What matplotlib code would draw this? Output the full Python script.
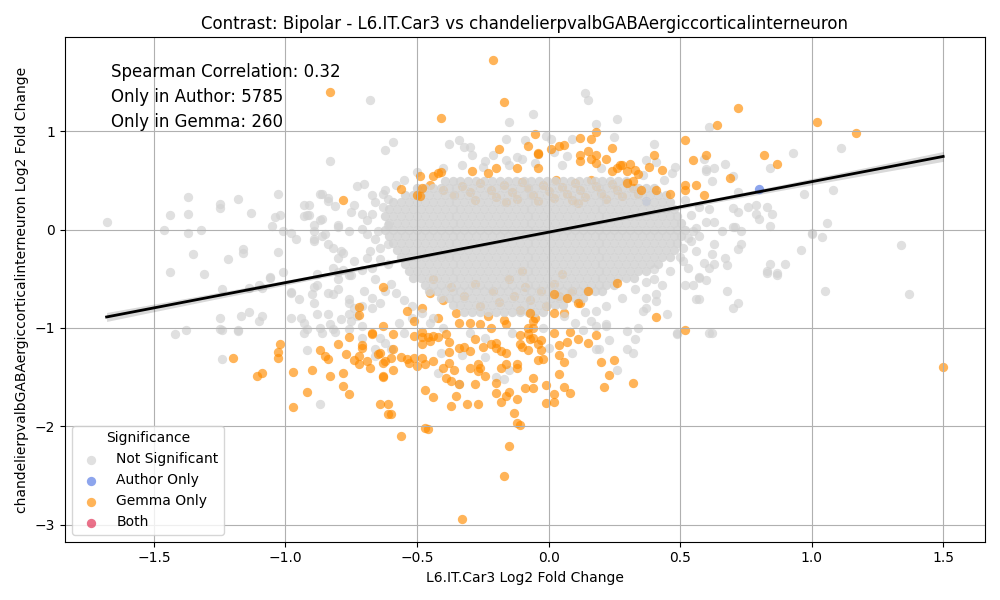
import numpy as np
import matplotlib.pyplot as plt

# labels
title = "Contrast: Bipolar - L6.IT.Car3 vs chandelierpvalbGABAergiccorticalinterneuron"
x_label = "L6.IT.Car3 Log2 Fold Change"
y_label = "chandelierpvalbGABAergiccorticalinterneuron Log2 Fold Change"
stats_lines = ["Spearman Correlation: 0.32", "Only in Author: 5785", "Only in Gemma: 260"]
categories = ["Not Significant", "Author Only", "Gemma Only", "Both"]
cat_colors = {"Not Significant": "lightgray", "Author Only": "royalblue",
              "Gemma Only": "darkorange", "Both": "crimson"}

# regression fit
fit_slope = 0.513
fit_intercept = -0.027

# not significant genes, scattered ones
gray_pts = [
    (-0.68, 1.32), (-0.83, 0.70), (-0.62, 0.81), (-1.68, 0.08), (-1.37, 0.33), (-1.44, 0.15), (-1.37, 0.16),
    (-1.46, -0.01), (-1.37, -0.04), (-1.32, 0.00), (-1.25, 0.26), (-1.25, 0.22), (-1.18, 0.31), (-1.13, 0.17),
    (-1.03, 0.36), (-1.04, 0.13), (-1.02, 0.15), (-1.05, 0.04), (-1.01, -0.02), (-0.98, -0.04), (-0.96, -0.10),
    (-1.35, -0.25), (-1.22, -0.30), (-1.16, -0.24), (-1.16, -0.20), (-1.03, -0.23), (-1.44, -0.43), (-1.31, -0.45),
    (-1.06, -0.49), (-0.93, 0.25), (-0.91, 0.25), (-0.87, 0.36), (-0.84, 0.32), (-0.81, 0.24), (-0.87, 0.10),
    (-0.89, 0.05), (-0.92, 0.15), (-0.89, -0.12), (-0.84, -0.15), (-0.85, -0.05), (-0.80, 0.03),
    (-0.73, 0.44), (-0.70, 0.46), (-0.67, 0.35), (-0.63, 0.36), (-0.74, 0.25), (-0.75, 0.18), (-0.71, 0.16),
    (-0.67, 0.16), (-0.63, 0.23), (-0.61, 0.31), (-0.80, 0.05), (-0.76, -0.02), (-0.71, 0.01), (-0.69, -0.05),
    (-0.65, -0.02), (-0.61, 0.05), (-0.78, -0.24), (-0.74, -0.32), (-0.69, -0.29), (-0.64, -0.19), (-0.61, -0.15),
    (-0.88, -0.45), (-0.80, -0.43), (-0.75, -0.46), (-0.71, -0.41), (-0.67, -0.39), (-0.61, -0.35),
    (-1.01, -0.43), (-0.98, -0.65), (-0.95, -0.71), (-0.90, -0.66), (-0.89, -0.75), (-1.24, -0.60),
    (-1.14, -0.59), (-1.10, -0.56), (-1.25, -0.90), (-1.25, -1.01), (-1.18, -1.02), (-1.17, -0.88), (-1.14, -0.84),
    (-1.09, -0.88), (-1.10, -0.93), (-1.38, -1.02), (-0.98, -0.90), (-0.94, -0.90), (-0.93, -0.95), (-0.92, -1.01),
    (-0.88, -0.86), (-0.84, -0.86), (-0.87, -1.00), (-0.83, -0.96), (-0.81, -1.04), (-0.79, -0.91),
    (-0.93, 0.14), (-0.91, 0.15), (-0.86, 0.36), (-0.84, 0.29), (-0.86, 0.11), (-0.89, -0.02), (-0.89, -0.10),
    (-0.86, -0.07), (-0.82, -0.19), (-0.79, -0.22), (-0.80, -0.29), (-0.82, -0.39), (-0.78, -0.41), (-0.80, -0.50),
    (-0.76, -0.46), (-0.88, -0.56), (-0.84, -0.65), (-0.82, -0.66), (-0.80, -0.60), (-0.76, -0.71), (-0.74, -0.80),
    (-0.73, -0.88), (-0.76, -1.01), (-0.71, -0.78), (-1.09, -0.59), (-1.06, -0.48), (-0.98, -0.64), (-0.89, -0.58),
    (-1.42, -1.06), (-1.24, -1.02), (-1.18, -1.03), (-1.24, -1.32), (-0.92, -1.22), (-0.93, -1.05),
    (-0.86, -1.05), (-0.82, -1.01), (-0.87, -1.77), (-0.76, -0.75), (-0.76, -0.86), (-0.75, -0.93), (-0.71, -0.98),
    (-0.71, -1.10), (-0.67, -0.80), (-0.64, -0.75), (-0.62, -0.63), (-0.70, -0.63), (-0.67, -0.70),
    (-0.66, -1.21), (-0.66, -1.29), (-0.64, -1.10), (-0.62, -1.15), (-0.60, -1.21),
    (0.30, -1.03), (0.33, -1.11), (0.23, -1.12), (0.26, -1.43), (0.18, -1.21), (0.19, -1.21), (0.32, -1.26),
    (0.30, -1.21), (0.22, -0.98), (0.18, -0.98), (0.37, -0.70), (0.36, -0.83), (0.41, -0.66), (0.45, -0.86),
    (0.49, -1.05), (0.52, -0.56), (0.55, -0.56), (0.57, -0.71), (0.60, -0.51), (-0.34, -1.57), (-0.17, -1.52),
    (-0.15, -1.43), (-0.42, -1.46), (0.57, -0.49), (0.68, -0.62), (0.70, -0.80), (0.72, -0.75), (0.62, -1.05),
    (0.83, -0.44), (0.87, -0.46), (1.05, -0.62), (1.37, -0.66),
    (0.61, 1.04), (0.93, 0.78), (1.11, 0.83), (0.84, 0.62), (0.67, 0.67), (0.63, 0.62), (0.60, 0.61), (0.59, 0.72),
    (0.70, 0.54), (0.72, 0.38), (0.76, 0.23), (0.79, 0.25), (0.83, 0.23), (0.85, 0.16), (0.80, 0.11), (0.79, 0.16),
    (0.97, 0.36), (1.08, 0.40), (1.06, 0.07), (1.00, -0.04), (1.00, -0.05), (1.04, -0.08), (0.96, -0.21),
    (1.34, -0.16), (0.84, -0.35), (0.83, -0.42), (0.87, -0.44), (0.90, -0.35), (0.70, 0.22), (0.72, 0.18),
    (0.70, 0.03), (0.73, -0.02), (0.71, 0.03), (0.66, -0.02), (0.63, -0.15), (0.63, -0.35), (0.67, -0.29),
    (0.68, -0.36), (0.72, -0.20), (0.73, -0.15), (0.84, 0.04),
    (0.14, 1.39), (0.15, 1.32), (-0.06, 1.17), (-0.15, 1.09), (0.18, 1.07), (0.26, 1.12), (-0.59, 0.89),
    (-0.38, 0.87), (-0.34, 0.91), (-0.32, 0.84), (-0.30, 0.84), (-0.29, 0.76), (-0.16, 0.92), (-0.09, 0.91),
    (-0.01, 0.95), (0.01, 0.92), (0.09, 0.92), (0.25, 0.94), (0.40, 0.87), (-0.24, 0.70), (-0.21, 0.76),
    (-0.16, 0.71), (-0.12, 0.74), (-0.10, 0.72), (-0.04, 0.77), (0.02, 0.79), (0.07, 0.75), (0.37, 0.71),
    (0.41, 0.69), (0.48, 0.64), (0.47, 0.57),
    (0.60, 0.59), (0.62, 0.49), (0.57, 0.23), (0.61, 0.21), (0.60, 0.08), (0.63, 0.08), (0.55, -0.02),
    (0.53, -0.09), (0.57, -0.07), (0.51, -0.19), (0.56, -0.22), (0.62, -0.25), (0.59, -0.34), (0.61, -0.39),
    (0.51, -0.32), (0.53, -0.39), (0.57, -0.48), (0.56, -0.71), (0.61, -1.05), (0.49, -1.06), (0.41, -0.73),
    (0.37, -0.53), (0.40, -0.50), (0.43, -0.56), (0.37, -0.80), (0.34, -1.00), (0.22, -0.96), (0.18, -0.83),
    (0.16, -0.93),
    (-0.45, -0.95), (-0.40, -1.00), (-0.30, -1.05), (-0.24, -1.10), (-0.14, -1.05), (-0.02, -1.00), (0.10, -0.95),
    (0.13, -1.02), (-0.33, -1.28), (-0.24, -1.30), (-0.41, -1.26), (-0.20, -1.50), (0.00, -1.20), (0.09, -1.26),
    (-0.55, -1.05), (-0.57, -0.95), (-0.52, -0.90),
    (-0.66, 0.28), (-0.69, 0.10), (-0.66, -0.10), (-0.68, -0.22), (-0.64, -0.30), (-0.66, -0.50), (-0.60, -0.55),
    (-0.58, -0.65), (-0.55, -0.72), (-0.52, -0.78), (-0.48, -0.85), (-0.44, -0.90), (-0.62, 0.40), (-0.58, 0.45),
    (-0.55, 0.50), (-0.50, 0.58), (-0.40, 0.63), (-0.33, 0.66), (-0.25, 0.64), (-0.15, 0.66), (-0.05, 0.68),
    (0.05, 0.66), (0.20, 0.62), (0.36, 0.55), (0.44, 0.50), (0.52, 0.30), (0.54, 0.15), (0.56, 0.02),
    (0.54, -0.12), (0.50, -0.28), (0.46, -0.42), (0.40, -0.40), (0.33, -0.60), (0.28, -0.70), (0.22, -0.78),
    (0.14, -0.84), (0.06, -0.88),
]

# dense core of not significant genes, read row by row (y, x positions)
core_y = [0.49, 0.42, 0.35, 0.28, 0.21, 0.14, 0.07, 0.00, -0.07, -0.14,
          -0.21, -0.28, -0.35, -0.42, -0.49, -0.56, -0.63, -0.70, -0.77, -0.84]
core_x = [
    [-0.395, -0.365, -0.335, -0.305, -0.275, -0.245, -0.215, -0.185, -0.155, -0.125, -0.095, -0.065, -0.035,
     -0.005, 0.025, 0.055, 0.085, 0.115, 0.145, 0.175, 0.205, 0.235, 0.265, 0.295],
    [-0.50, -0.47, -0.44, -0.41, -0.38, -0.35, -0.32, -0.29, -0.26, -0.23, -0.20, -0.17, -0.14, -0.11, -0.08,
     -0.05, -0.02, 0.01, 0.04, 0.07, 0.10, 0.13, 0.16, 0.19, 0.22, 0.25, 0.28, 0.31, 0.34, 0.37, 0.40],
    [-0.545, -0.515, -0.485, -0.455, -0.425, -0.395, -0.365, -0.335, -0.305, -0.275, -0.245, -0.215, -0.185,
     -0.155, -0.125, -0.095, -0.065, -0.035, -0.005, 0.025, 0.055, 0.085, 0.115, 0.145, 0.175, 0.205, 0.235,
     0.265, 0.295, 0.325, 0.355, 0.385, 0.415, 0.445],
    [-0.59, -0.56, -0.53, -0.50, -0.47, -0.44, -0.41, -0.38, -0.35, -0.32, -0.29, -0.26, -0.23, -0.20, -0.17,
     -0.14, -0.11, -0.08, -0.05, -0.02, 0.01, 0.04, 0.07, 0.10, 0.13, 0.16, 0.19, 0.22, 0.25, 0.28, 0.31, 0.34,
     0.37, 0.40, 0.43, 0.46],
    [-0.605, -0.575, -0.545, -0.515, -0.485, -0.455, -0.425, -0.395, -0.365, -0.335, -0.305, -0.275, -0.245,
     -0.215, -0.185, -0.155, -0.125, -0.095, -0.065, -0.035, -0.005, 0.025, 0.055, 0.085, 0.115, 0.145, 0.175,
     0.205, 0.235, 0.265, 0.295, 0.325, 0.355, 0.385, 0.415, 0.445, 0.475],
    [-0.62, -0.59, -0.56, -0.53, -0.50, -0.47, -0.44, -0.41, -0.38, -0.35, -0.32, -0.29, -0.26, -0.23, -0.20,
     -0.17, -0.14, -0.11, -0.08, -0.05, -0.02, 0.01, 0.04, 0.07, 0.10, 0.13, 0.16, 0.19, 0.22, 0.25, 0.28, 0.31,
     0.34, 0.37, 0.40, 0.43, 0.46, 0.49],
    [-0.605, -0.575, -0.545, -0.515, -0.485, -0.455, -0.425, -0.395, -0.365, -0.335, -0.305, -0.275, -0.245,
     -0.215, -0.185, -0.155, -0.125, -0.095, -0.065, -0.035, -0.005, 0.025, 0.055, 0.085, 0.115, 0.145, 0.175,
     0.205, 0.235, 0.265, 0.295, 0.325, 0.355, 0.385, 0.415, 0.445, 0.475, 0.505],
    [-0.62, -0.59, -0.56, -0.53, -0.50, -0.47, -0.44, -0.41, -0.38, -0.35, -0.32, -0.29, -0.26, -0.23, -0.20,
     -0.17, -0.14, -0.11, -0.08, -0.05, -0.02, 0.01, 0.04, 0.07, 0.10, 0.13, 0.16, 0.19, 0.22, 0.25, 0.28, 0.31,
     0.34, 0.37, 0.40, 0.43, 0.46, 0.49, 0.52],
    [-0.605, -0.575, -0.545, -0.515, -0.485, -0.455, -0.425, -0.395, -0.365, -0.335, -0.305, -0.275, -0.245,
     -0.215, -0.185, -0.155, -0.125, -0.095, -0.065, -0.035, -0.005, 0.025, 0.055, 0.085, 0.115, 0.145, 0.175,
     0.205, 0.235, 0.265, 0.295, 0.325, 0.355, 0.385, 0.415, 0.445, 0.475, 0.505],
    [-0.59, -0.56, -0.53, -0.50, -0.47, -0.44, -0.41, -0.38, -0.35, -0.32, -0.29, -0.26, -0.23, -0.20, -0.17,
     -0.14, -0.11, -0.08, -0.05, -0.02, 0.01, 0.04, 0.07, 0.10, 0.13, 0.16, 0.19, 0.22, 0.25, 0.28, 0.31, 0.34,
     0.37, 0.40, 0.43, 0.46, 0.49],
    [-0.575, -0.545, -0.515, -0.485, -0.455, -0.425, -0.395, -0.365, -0.335, -0.305, -0.275, -0.245, -0.215,
     -0.185, -0.155, -0.125, -0.095, -0.065, -0.035, -0.005, 0.025, 0.055, 0.085, 0.115, 0.145, 0.175, 0.205,
     0.235, 0.265, 0.295, 0.325, 0.355, 0.385, 0.415, 0.445, 0.475],
    [-0.56, -0.53, -0.50, -0.47, -0.44, -0.41, -0.38, -0.35, -0.32, -0.29, -0.26, -0.23, -0.20, -0.17, -0.14,
     -0.11, -0.08, -0.05, -0.02, 0.01, 0.04, 0.07, 0.10, 0.13, 0.16, 0.19, 0.22, 0.25, 0.28, 0.31, 0.34, 0.37,
     0.40, 0.43, 0.46],
    [-0.545, -0.515, -0.485, -0.455, -0.425, -0.395, -0.365, -0.335, -0.305, -0.275, -0.245, -0.215, -0.185,
     -0.155, -0.125, -0.095, -0.065, -0.035, -0.005, 0.025, 0.055, 0.085, 0.115, 0.145, 0.175, 0.205, 0.235,
     0.265, 0.295, 0.325, 0.355, 0.385, 0.415],
    [-0.53, -0.50, -0.47, -0.44, -0.41, -0.38, -0.35, -0.32, -0.29, -0.26, -0.23, -0.20, -0.17, -0.14, -0.11,
     -0.08, -0.05, -0.02, 0.01, 0.04, 0.07, 0.10, 0.13, 0.16, 0.19, 0.22, 0.25, 0.28, 0.31, 0.34, 0.37],
    [-0.515, -0.485, -0.455, -0.425, -0.395, -0.365, -0.335, -0.305, -0.275, -0.245, -0.215, -0.185, -0.155,
     -0.125, -0.095, -0.065, -0.035, -0.005, 0.025, 0.055, 0.085, 0.115, 0.145, 0.175, 0.205, 0.235, 0.265,
     0.295, 0.325],
    [-0.47, -0.44, -0.41, -0.38, -0.35, -0.32, -0.29, -0.26, -0.23, -0.20, -0.17, -0.14, -0.11, -0.08, -0.05,
     -0.02, 0.01, 0.04, 0.07, 0.10, 0.13, 0.16, 0.19, 0.22, 0.25],
    [-0.455, -0.425, -0.395, -0.365, -0.335, -0.305, -0.275, -0.245, -0.215, -0.185, -0.155, -0.125, -0.095,
     -0.065, -0.035, -0.005, 0.025, 0.055, 0.085, 0.115, 0.145, 0.175, 0.205],
    [-0.41, -0.38, -0.35, -0.32, -0.29, -0.26, -0.23, -0.20, -0.17, -0.14, -0.11, -0.08, -0.05, -0.02, 0.01,
     0.04, 0.07, 0.10, 0.13],
    [-0.365, -0.335, -0.305, -0.275, -0.245, -0.215, -0.185, -0.155, -0.125, -0.095, -0.065, -0.035, -0.005,
     0.025, 0.055],
    [-0.32, -0.29, -0.26, -0.23, -0.20, -0.17, -0.14, -0.11, -0.08, -0.05, -0.02],
]

# gemma-only genes partly hidden under the grey cloud
gemma_under = [
    (-0.45, 0.45), (-0.40, 0.40), (-0.33, 0.44), (-0.30, 0.38), (-0.26, 0.47), (-0.22, 0.40), (-0.20, 0.33),
    (-0.17, 0.45), (-0.14, 0.38), (-0.12, 0.31), (-0.10, 0.48), (-0.08, 0.42), (-0.06, 0.35), (-0.04, 0.29),
    (-0.02, 0.45), (0.00, 0.39), (0.02, 0.32), (0.03, 0.50), (0.05, 0.43), (0.07, 0.36), (0.09, 0.30),
    (0.10, 0.47), (0.12, 0.40), (0.14, 0.33), (0.16, 0.50), (0.18, 0.44), (0.20, 0.37), (0.22, 0.31),
    (0.24, 0.46), (0.26, 0.40), (0.28, 0.34), (0.30, 0.48), (0.32, 0.42), (0.34, 0.36), (-0.28, 0.30),
    (-0.16, 0.28), (0.11, 0.27), (-0.36, 0.35),
    (-0.48, -0.80), (-0.45, -0.65), (-0.42, -0.90), (-0.40, -0.72), (-0.37, -0.58), (-0.35, -0.85),
    (-0.32, -0.68), (-0.30, -0.95), (-0.28, -0.55), (-0.26, -0.78), (-0.23, -0.88), (-0.21, -0.63),
    (-0.19, -0.74), (-0.17, -0.92), (-0.15, -0.50), (-0.13, -0.68), (-0.11, -0.82), (-0.09, -0.58),
    (-0.07, -0.72), (-0.05, -0.90), (-0.03, -0.62), (-0.01, -0.78), (0.02, -0.55), (0.04, -0.68),
    (0.06, -0.85), (0.09, -0.62), (0.12, -0.75), (-0.44, -0.50), (-0.10, -0.42), (0.05, -0.45),
]
author_under = [(0.37, 0.29)]

# gemma-only genes drawn on top
gemma_pts = [
    (-0.21, 1.72), (-0.17, 1.30), (-0.41, 1.13), (-0.83, 1.40), (-0.78, 0.30), (0.72, 1.23), (1.02, 1.09),
    (1.17, 0.98), (1.50, -1.40), (0.52, 0.91), (0.64, 1.06), (0.82, 0.76), (0.87, 0.67), (0.60, 0.76),
    (0.55, 0.71), (0.69, 0.52), (0.56, 0.45), (0.52, 0.45), (0.52, 0.40), (0.59, 0.35),
    (-0.05, 0.97), (0.12, 0.93), (0.16, 0.92), (0.18, 0.99), (0.24, 0.83), (0.22, 0.72), (0.15, 0.80),
    (0.12, 0.76), (0.18, 0.76), (0.06, 0.86), (0.04, 0.85), (0.01, 0.82), (-0.08, 0.85), (-0.04, 0.77),
    (-0.19, 0.82), (0.40, 0.76), (0.38, 0.64), (0.43, 0.60), (0.33, 0.60), (0.27, 0.66), (0.24, 0.59),
    (0.30, 0.47), (0.35, 0.40), (0.46, 0.36), (-0.12, 0.62), (-0.20, 0.63), (-0.23, 0.57), (-0.29, 0.59),
    (-0.41, 0.58), (-0.44, 0.54), (-0.49, 0.54), (-0.48, 0.42), (-0.56, 0.41), (-0.50, 0.35), (-0.04, 0.62),
    (0.12, 0.70), (0.16, 0.72), (0.18, 0.68), (0.31, 0.67), (-0.42, 0.57), (-0.49, 0.34),
    (0.26, 0.62), (0.28, 0.66), (0.30, 0.59), (0.34, 0.56), (0.32, 0.49), (0.41, 0.40), (-0.04, 0.78),
    (-1.20, -1.31), (-1.11, -1.49), (-1.09, -1.46), (-1.02, -1.16), (-1.03, -1.24), (-1.03, -1.31),
    (-0.97, -1.80), (-0.97, -1.45), (-0.92, -1.65), (-0.90, -1.43), (-0.87, -1.22), (-0.84, -1.32),
    (-0.83, -1.49), (-0.85, -1.29), (-0.80, -1.16), (-0.77, -1.27), (-0.78, -1.46), (-0.78, -1.59),
    (-0.76, -1.67), (-0.76, -1.09), (-0.74, -1.33), (-0.72, -1.29), (-0.72, -1.37), (-0.71, -1.17),
    (-0.71, -1.20), (-0.69, -1.34), (-0.68, -1.41), (-0.67, -1.06), (-0.65, -1.27), (-0.64, -1.26),
    (-0.63, -1.49), (-0.62, -1.34), (-0.64, -1.77), (-0.61, -1.77), (-0.61, -1.87), (-0.72, -0.79),
    (-0.72, -0.87), (-0.63, -0.58), (-0.63, -0.98),
    (-0.56, -2.10), (-0.47, -2.02), (-0.46, -2.03), (-0.33, -2.94), (-0.17, -2.51), (-0.15, -2.20),
    (-0.13, -1.86), (-0.12, -1.97), (-0.11, -1.99), (-0.60, -1.87), (-0.47, -1.63), (-0.44, -1.70),
    (-0.37, -1.79), (-0.35, -1.69), (-0.31, -1.77), (-0.27, -1.77), (-0.28, -1.57), (-0.20, -1.66),
    (-0.18, -1.75), (-0.16, -1.69), (-0.15, -1.65), (-0.12, -1.72), (-0.09, -1.61), (-0.06, -1.61),
    (-0.06, -1.51), (-0.01, -1.58), (0.02, -1.67), (-0.01, -1.76), (0.02, -1.75), (0.04, -1.47),
    (0.06, -1.60), (0.08, -1.66), (0.20, -1.35), (0.23, -1.48), (0.21, -1.60), (0.25, -1.33), (0.32, -1.56),
    (0.41, -0.89), (0.52, -1.02),
    (0.06, -1.35), (0.04, -1.28), (0.07, -1.14), (0.11, -1.11), (0.15, -1.15), (0.18, -1.07), (0.04, -1.17),
    (0.02, -1.05), (0.08, -1.04),
    (-0.39, -1.51), (-0.36, -1.43), (-0.37, -1.54), (-0.40, -1.41), (-0.38, -1.36), (-0.34, -1.57),
    (-0.30, -1.41), (-0.27, -1.37), (-0.27, -1.44), (-0.26, -1.41), (-0.24, -1.49), (-0.20, -1.56),
    (-0.18, -1.41), (-0.16, -1.37), (-0.12, -1.37), (-0.12, -1.41), (-0.04, -1.33), (-0.02, -1.32),
    (-0.38, -1.24), (-0.38, -1.14), (-0.34, -1.20), (-0.32, -1.19), (-0.30, -1.23), (-0.28, -1.11),
    (-0.25, -1.19), (-0.22, -1.16), (-0.20, -1.15), (-0.20, -1.20), (-0.18, -1.23), (-0.16, -1.25),
    (-0.11, -1.16), (-0.10, -1.19), (-0.08, -1.22), (-0.06, -1.10), (-0.03, -1.22), (-0.03, -1.12),
    (-0.48, -1.09), (-0.48, -1.16), (-0.45, -1.13), (-0.44, -1.08), (-0.56, -1.30), (-0.54, -1.32),
    (-0.53, -1.36), (-0.51, -1.31), (-0.50, -1.39), (-0.48, -1.31), (-0.47, -1.37), (-0.59, -1.21),
    (-0.60, -1.31), (-0.59, -1.43), (-0.63, -1.36), (-0.63, -1.50), (-0.44, -1.34),
    (-0.59, -1.06), (-0.51, -0.93), (-0.51, -1.08), (-0.48, -1.04), (-0.46, -1.09), (-0.34, -0.95),
    (-0.26, -0.96), (-0.22, -1.00), (-0.16, -0.96), (-0.11, -1.07), (-0.08, -1.00), (-0.06, -0.93),
    (0.02, -0.85), (0.07, -0.70), (0.11, -0.75), (0.15, -0.62), (0.26, -0.54), (0.02, -0.66),
    (-0.54, -0.83), (-0.42, -1.09), (-0.39, -1.06), (-0.67, -1.05),
    (-0.07, -0.85), (-0.06, -1.00), (-0.08, -1.06), (-0.07, -1.11), (-0.04, -1.16),
]
author_pts = [(0.80, 0.41)]
both_pts = []


def xy(pts):
    a = np.array(pts, dtype=float).reshape(-1, 2)
    return a[:, 0], a[:, 1]


core_pts = [(x, y) for y, row in zip(core_y, core_x) for x in row]
grey_all = gray_pts + core_pts

fig, ax = plt.subplots(figsize=(10, 6), dpi=100)
kw = dict(s=45, linewidths=0)

# thousands of overlapping genes make the middle of the cloud nearly opaque
ax.scatter(*xy(gemma_under), color=cat_colors["Gemma Only"], alpha=0.65, **kw)
ax.scatter(*xy(author_under), color=cat_colors["Author Only"], alpha=0.6, **kw)
ax.scatter(*xy(core_pts), color=cat_colors["Not Significant"], alpha=0.85, **kw)
ax.scatter(*xy(gray_pts), color=cat_colors["Not Significant"], alpha=0.7,
           label="Not Significant", **kw)
ax.scatter(*xy(author_pts), color=cat_colors["Author Only"], alpha=0.6, label="Author Only", **kw)
ax.scatter(*xy(gemma_pts), color=cat_colors["Gemma Only"], alpha=0.65, label="Gemma Only", **kw)
ax.scatter(*xy(both_pts), color=cat_colors["Both"], alpha=0.6, label="Both", **kw)

# regression line with a narrow confidence band
all_x = np.concatenate([xy(grey_all)[0], xy(gemma_pts)[0], xy(author_pts)[0]])
xs = np.linspace(all_x.min(), all_x.max(), 100)
ys = fit_slope * xs + fit_intercept
band = 0.015 + 0.013 * (xs - all_x.mean()) ** 2
ax.fill_between(xs, ys - band, ys + band, color="black", alpha=0.15, linewidth=0, zorder=3)
ax.plot(xs, ys, color="black", linewidth=2, zorder=4)

for i, line in enumerate(stats_lines):
    ax.text(0.05, 0.95 - 0.05 * i, line, transform=ax.transAxes, fontsize=12, va="top")

ax.set_title(title, fontsize=12)
ax.set_xlabel(x_label)
ax.set_ylabel(y_label)
ax.grid(True)
leg = ax.legend(title="Significance", loc="lower left")

plt.tight_layout()
plt.savefig("out.png")
